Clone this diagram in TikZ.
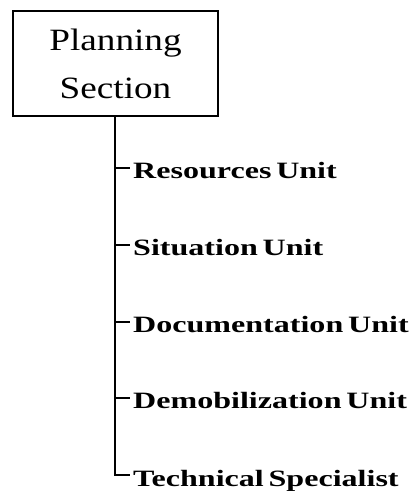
\documentclass[tikz,border=0pt]{standalone}
\usepackage{fontspec}
\setmainfont{Liberation Serif}
\newfontfamily\headfont[FakeStretch=1.2]{Liberation Serif}
\newfontfamily\unitfont[FakeStretch=1.37,WordSpace=0.6]{Liberation Serif Bold}
\begin{document}
\begin{tikzpicture}[x=1pt,y=-1pt,
  headbox/.style={draw,line width=2pt,minimum width=205pt,minimum height=105pt,
    inner sep=0pt,align=center,font=\headfont\fontsize{31}{48}\selectfont},
  trunk/.style={line width=2pt},
  unit/.style={anchor=base west,inner sep=0pt,font=\unitfont\fontsize{23.4}{28}\selectfont}]
  \useasboundingbox (0,0) rectangle (413,496);
  % section box
  \node[headbox] (ps) at (115.5,63.5) {Planning\\Section};
  \coordinate (top) at (115,116);
  % branch points along the trunk and the ends of the branches
  \coordinate (b1) at (115,168);  \coordinate (e1) at (130,168);
  \coordinate (b2) at (115,245);  \coordinate (e2) at (130,245);
  \coordinate (b3) at (115,322);  \coordinate (e3) at (130,322);
  \coordinate (b4) at (115,398);  \coordinate (e4) at (130,398);
  \coordinate (b5) at (115,475);  \coordinate (e5) at (130,475);
  % unit labels
  \node[unit] (u1) at (133,178) {Resources Unit};
  \node[unit] (u2) at (133,255) {Situation Unit};
  \node[unit] (u3) at (133,332) {Documentation Unit};
  \node[unit] (u4) at (133,408) {Demobilization Unit};
  \node[unit] (u5) at (133,486) {Technical Specialist};
  % trunk and branches
  \draw[trunk] (top) -- (b5) -- (e5);
  \foreach \i in {1,2,3,4}{
    \draw[trunk] (b\i) -- (e\i);
  }
\end{tikzpicture}
\end{document}
